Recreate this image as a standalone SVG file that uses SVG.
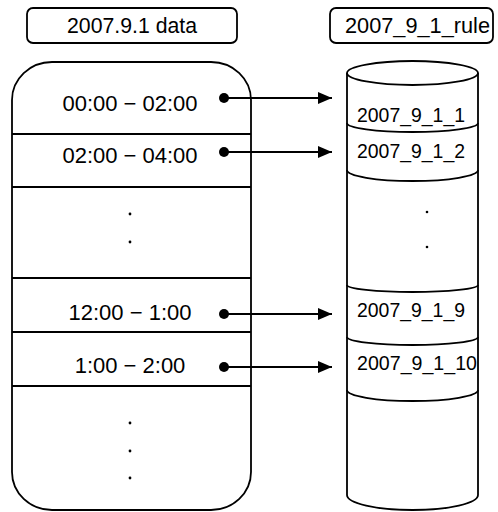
<svg xmlns="http://www.w3.org/2000/svg" width="498" height="512" viewBox="0 0 498 512">
<defs>
<style>
.ln{fill:none;stroke:#000;stroke-width:1.8}
.t{font-family:"Liberation Sans",Arial,sans-serif;font-size:22px;fill:#000}
.c{font-family:"Liberation Sans",Arial,sans-serif;font-size:21px;fill:#000}
.dot{fill:#000}
</style>
<marker id="ah" markerWidth="14" markerHeight="12" refX="14" refY="6" orient="auto" markerUnits="userSpaceOnUse">
<path d="M0,0 L14,6 L0,12 Z" fill="#000"/>
</marker>
</defs>
<rect width="498" height="512" fill="#fff"/>
<g id="label-data">
<rect class="ln" x="27" y="8" width="210" height="35" rx="6"/>
<text class="t" x="132" y="33" text-anchor="middle" textLength="130" lengthAdjust="spacingAndGlyphs">2007.9.1 data</text>
</g>
<g id="label-rule">
<rect class="ln" x="330" y="8" width="163" height="35" rx="6"/>
<text class="t" x="345" y="33" textLength="145" lengthAdjust="spacingAndGlyphs">2007_9_1_rule</text>
</g>
<g id="data-table">
<rect class="ln" x="12" y="62" width="239" height="448" rx="40" ry="38"/>
<line class="ln" x1="12" y1="134" x2="251" y2="134"/>
<line class="ln" x1="12" y1="187" x2="251" y2="187"/>
<line class="ln" x1="12" y1="278" x2="251" y2="278"/>
<line class="ln" x1="12" y1="332" x2="251" y2="332"/>
<line class="ln" x1="12" y1="386" x2="251" y2="386"/>
<text class="t" x="130" y="111" text-anchor="middle">00:00 − 02:00</text>
<text class="t" x="130" y="163" text-anchor="middle">02:00 − 04:00</text>
<text class="t" x="130" y="320" text-anchor="middle">12:00 − 1:00</text>
<text class="t" x="130" y="373" text-anchor="middle">1:00 − 2:00</text>
<circle class="dot" cx="130" cy="214" r="1.4"/>
<circle class="dot" cx="130" cy="242" r="1.4"/>
<circle class="dot" cx="130" cy="423" r="1.4"/>
<circle class="dot" cx="130" cy="451" r="1.4"/>
<circle class="dot" cx="130" cy="478" r="1.4"/>
</g>
<g id="rule-db">
<path class="ln" d="M347,73 L347,495 A65.5,15 0 0 0 478,495 L478,73"/>
<ellipse class="ln" cx="412.5" cy="73" rx="65.5" ry="12"/>
<path class="ln" d="M347,123 A65.5,9 0 0 0 478,123"/>
<path class="ln" d="M347,170 A65.5,11 0 0 0 478,170"/>
<path class="ln" d="M347,285 A65.5,7 0 0 0 478,285"/>
<path class="ln" d="M347,337 A65.5,8 0 0 0 478,337"/>
<path class="ln" d="M347,390 A65.5,11 0 0 0 478,390"/>
<text class="c" x="357" y="122" textLength="108" lengthAdjust="spacingAndGlyphs">2007_9_1_1</text>
<text class="c" x="357" y="158" textLength="108" lengthAdjust="spacingAndGlyphs">2007_9_1_2</text>
<text class="c" x="357" y="317" textLength="108" lengthAdjust="spacingAndGlyphs">2007_9_1_9</text>
<text class="c" x="357" y="370" textLength="120" lengthAdjust="spacingAndGlyphs">2007_9_1_10</text>
<circle class="dot" cx="427" cy="212" r="1.3"/>
<circle class="dot" cx="427" cy="247" r="1.3"/>
</g>
<g id="connectors">
<circle class="dot" cx="224" cy="98" r="5"/>
<circle class="dot" cx="224" cy="152" r="5"/>
<circle class="dot" cx="224" cy="314" r="5"/>
<circle class="dot" cx="224" cy="367" r="5"/>
<line class="ln" x1="224" y1="98" x2="332" y2="98" marker-end="url(#ah)"/>
<line class="ln" x1="224" y1="152" x2="332" y2="152" marker-end="url(#ah)"/>
<line class="ln" x1="224" y1="314" x2="332" y2="314" marker-end="url(#ah)"/>
<line class="ln" x1="224" y1="367" x2="332" y2="367" marker-end="url(#ah)"/>
</g>
</svg>
